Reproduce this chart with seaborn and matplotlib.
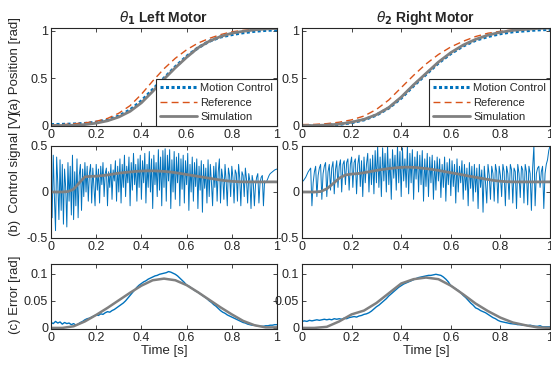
import numpy as np
import matplotlib
matplotlib.use("Agg")
import matplotlib.pyplot as plt
import seaborn as sns

# time bases
t21 = np.linspace(0, 1, 21)
t41 = np.linspace(0, 1, 41)
t101 = np.linspace(0, 1, 101)
t201 = np.linspace(0, 1, 201)

# (a) position [rad]
mc_left = [0.01, 0.012, 0.016, 0.022, 0.035, 0.058, 0.1, 0.165, 0.26, 0.38, 0.5,
           0.62, 0.73, 0.82, 0.89, 0.935, 0.96, 0.98, 0.995, 1.005, 1.01]
ref_left = [0.005, 0.01, 0.018, 0.028, 0.045, 0.075, 0.13, 0.21, 0.33, 0.47, 0.6,
            0.71, 0.8, 0.87, 0.92, 0.96, 0.99, 1.005, 1.015, 1.02, 1.025]
sim_left = [0.0, 0.0, 0.003, 0.01, 0.025, 0.05, 0.09, 0.15, 0.24, 0.36, 0.49,
            0.61, 0.72, 0.82, 0.89, 0.94, 0.975, 0.995, 1.01, 1.02, 1.025]
mc_right = [-0.005, -0.003, 0.003, 0.012, 0.03, 0.06, 0.11, 0.185, 0.29, 0.42, 0.54,
            0.66, 0.76, 0.84, 0.9, 0.94, 0.97, 0.99, 1.0, 1.01, 1.015]
ref_right = [0.01, 0.012, 0.02, 0.035, 0.06, 0.1, 0.17, 0.27, 0.4, 0.53, 0.65,
             0.75, 0.83, 0.89, 0.94, 0.975, 0.995, 1.01, 1.02, 1.025, 1.03]
sim_right = [0.0, 0.0, 0.005, 0.015, 0.035, 0.065, 0.115, 0.19, 0.3, 0.43, 0.55,
             0.67, 0.77, 0.85, 0.91, 0.955, 0.985, 1.005, 1.015, 1.025, 1.03]

# (b) control signal [V], measured (step 0.005)
u_left = [
    0.15, -0.28, 0.40, -0.05, -0.42, 0.38, 0.10, -0.30, 0.35, -0.20, 0.30, -0.35, 0.25, 0.05, -0.38, 0.32, -0.10, 0.28, -0.25, 0.40,
    -0.30, 0.22, -0.15, 0.36, -0.28, 0.18, 0.30, -0.20, 0.25, -0.05, 0.32, 0.00, 0.28, -0.10, 0.20, 0.30, -0.12, 0.26, 0.05, -0.15,
    0.30, 0.02, 0.25, -0.12, 0.28, 0.08, 0.32, -0.05, 0.20, 0.26, -0.15, 0.22, 0.05, 0.30, -0.08, 0.24, 0.12, 0.34, -0.10, 0.28,
    0.00, 0.36, -0.12, 0.30, 0.05, 0.40, -0.05, 0.28, 0.10, 0.38, -0.15, 0.32, 0.02, 0.42, 0.08, 0.30, -0.10, 0.36, 0.05, 0.40,
    -0.08, 0.34, 0.10, 0.42, -0.12, 0.30, 0.05, 0.44, 0.00, 0.36, -0.18, 0.40, 0.08, 0.32, -0.05, 0.46, 0.02, 0.38, -0.15, 0.45,
    0.05, 0.47, -0.10, 0.40, 0.12, 0.46, -0.18, 0.35, 0.00, 0.44, -0.08, 0.38, 0.10, 0.42, -0.15, 0.36, 0.03, 0.40, -0.12, 0.34,
    0.08, 0.42, -0.20, 0.30, 0.00, 0.38, -0.10, 0.32, 0.06, 0.36, -0.18, 0.28, 0.02, 0.34, -0.22, 0.30, 0.04, 0.26, -0.12, 0.35,
    -0.05, 0.30, 0.10, -0.15, 0.28, 0.05, 0.32, -0.10, 0.22, 0.36, -0.12, 0.25, 0.15, -0.08, 0.30, 0.12, -0.15, 0.26, 0.18, -0.05,
    0.28, 0.16, -0.12, 0.24, 0.20, -0.10, 0.30, 0.15, -0.15, 0.22, 0.18, -0.05, 0.26, 0.14, -0.12, 0.20, 0.12, -0.18, 0.18, 0.10,
    -0.15, 0.08, 0.16, 0.20, -0.12, 0.10, 0.16, 0.18, -0.15, 0.12, 0.10, 0.12, 0.15, 0.18, 0.20, 0.21, 0.22, 0.23, 0.24, 0.245,
    0.25]
u_right = [
    0.13, 0.12, 0.14, 0.16, 0.19, 0.22, 0.24, 0.26, -0.15, 0.10, 0.22, 0.28, -0.05, 0.18, 0.26, 0.30, -0.08, 0.20, 0.28, 0.32,
    -0.05, 0.22, 0.30, 0.02, 0.26, 0.33, -0.02, 0.24, 0.34, 0.05, 0.28, 0.35, 0.00, 0.30, 0.34, 0.08, 0.32, 0.36, 0.02, 0.30,
    0.38, 0.05, 0.32, 0.36, -0.02, 0.30, 0.40, 0.06, 0.34, -0.05, 0.38, 0.10, 0.30, 0.42, 0.00, 0.36, 0.08, 0.40, -0.02, 0.45,
    0.10, 0.50, 0.05, 0.38, -0.05, 0.48, 0.12, 0.42, 0.00, 0.50, 0.08, 0.36, -0.08, 0.46, 0.15, 0.40, 0.02, 0.50, 0.10, 0.44,
    -0.05, 0.48, 0.12, 0.36, 0.05, 0.50, -0.02, 0.42, 0.10, 0.46, -0.08, 0.38, 0.14, 0.44, 0.00, 0.40, 0.08, 0.45, -0.10, 0.36,
    0.06, 0.42, -0.05, 0.38, 0.10, 0.40, -0.08, 0.34, 0.02, 0.38, 0.12, 0.36, -0.06, 0.30, 0.05, 0.38, -0.10, 0.32, 0.08, 0.36,
    -0.04, 0.34, 0.06, 0.30, -0.12, 0.36, 0.00, 0.28, 0.10, 0.34, -0.08, 0.30, 0.02, 0.26, -0.15, 0.32, 0.04, 0.28, -0.10, 0.30,
    0.00, 0.26, -0.18, 0.30, 0.05, 0.24, -0.22, 0.28, 0.10, -0.12, 0.30, 0.18, -0.08, 0.28, 0.20, -0.10, 0.30, 0.22, -0.12, 0.28,
    0.18, -0.05, 0.30, 0.22, -0.15, 0.28, 0.20, -0.08, 0.30, 0.24, -0.12, 0.26, 0.22, -0.18, 0.30, 0.20, -0.06, 0.28, 0.24, -0.12,
    0.30, 0.22, -0.14, 0.28, 0.20, -0.20, 0.26, 0.50, -0.15, 0.20, 0.26, 0.28, 0.05, 0.22, 0.28, -0.18, 0.20, 0.30, 0.35, 0.45,
    0.50]

# (b) control signal, simulation (step 0.025)
usim_left = [0.0, 0.0, 0.0, 0.005, 0.03, 0.1, 0.165, 0.17, 0.172, 0.178, 0.185,
             0.195, 0.205, 0.212, 0.218, 0.224, 0.228, 0.23, 0.23, 0.228, 0.224,
             0.218, 0.21, 0.2, 0.19, 0.18, 0.17, 0.16, 0.15, 0.14, 0.13,
             0.122, 0.116, 0.112, 0.11, 0.11, 0.11, 0.11, 0.11, 0.11, 0.11]
usim_right = [0.0, 0.0, 0.0, 0.005, 0.035, 0.09, 0.15, 0.185, 0.195, 0.2, 0.21,
              0.222, 0.235, 0.245, 0.255, 0.262, 0.268, 0.27, 0.268, 0.262, 0.255,
              0.245, 0.235, 0.222, 0.21, 0.198, 0.185, 0.172, 0.16, 0.148, 0.136,
              0.125, 0.117, 0.112, 0.11, 0.11, 0.11, 0.11, 0.11, 0.11, 0.11]

# (c) error [rad], measured (step 0.01)
err_left = [
    0.010, 0.008, 0.012, 0.009, 0.011, 0.007, 0.010, 0.008, 0.009, 0.006,
    0.008, 0.005, 0.007, 0.010, 0.012, 0.015, 0.017, 0.018, 0.020, 0.022,
    0.024, 0.023, 0.026, 0.025, 0.028, 0.030, 0.029, 0.032, 0.034, 0.037,
    0.040, 0.043, 0.046, 0.050, 0.055, 0.060, 0.065, 0.070, 0.075, 0.079,
    0.082, 0.085, 0.087, 0.090, 0.092, 0.094, 0.096, 0.097, 0.099, 0.100,
    0.101, 0.102, 0.104, 0.103, 0.101, 0.099, 0.096, 0.092, 0.088, 0.084,
    0.079, 0.077, 0.074, 0.071, 0.068, 0.066, 0.063, 0.060, 0.057, 0.054,
    0.050, 0.047, 0.043, 0.040, 0.036, 0.032, 0.029, 0.027, 0.024, 0.022,
    0.020, 0.018, 0.016, 0.014, 0.012, 0.010, 0.009, 0.007, 0.006, 0.005,
    0.005, 0.004, 0.003, 0.003, 0.003, 0.004, 0.004, 0.005, 0.005, 0.006,
    0.006]
err_right = [
    0.012, 0.013, 0.012, 0.014, 0.013, 0.014, 0.015, 0.014, 0.015, 0.016,
    0.015, 0.016, 0.015, 0.017, 0.016, 0.017, 0.016, 0.018, 0.017, 0.019,
    0.020, 0.021, 0.020, 0.022, 0.023, 0.025, 0.026, 0.028, 0.031, 0.035,
    0.039, 0.042, 0.046, 0.050, 0.054, 0.059, 0.063, 0.067, 0.071, 0.075,
    0.078, 0.081, 0.083, 0.085, 0.087, 0.089, 0.091, 0.093, 0.094, 0.095,
    0.096, 0.097, 0.097, 0.098, 0.099, 0.098, 0.097, 0.094, 0.090, 0.085,
    0.078, 0.075, 0.072, 0.069, 0.065, 0.060, 0.056, 0.051, 0.046, 0.042,
    0.037, 0.035, 0.032, 0.030, 0.028, 0.025, 0.022, 0.019, 0.017, 0.014,
    0.012, 0.011, 0.010, 0.009, 0.008, 0.0075, 0.007, 0.006, 0.006, 0.005,
    0.005, 0.004, 0.005, 0.004, 0.003, 0.003, 0.004, 0.002, 0.002, 0.002,
    0.002]

# (c) error, simulation (step 0.05)
esim_left = [0.0, 0.0, 0.003, 0.012, 0.024, 0.037, 0.051, 0.065, 0.078, 0.088, 0.091,
             0.088, 0.079, 0.066, 0.052, 0.038, 0.025, 0.013, 0.005, 0.001, 0.001]
esim_right = [0.0, 0.0, 0.002, 0.012, 0.025, 0.032, 0.046, 0.064, 0.082, 0.09, 0.093,
              0.09, 0.078, 0.062, 0.045, 0.031, 0.019, 0.010, 0.005, 0.001, 0.0]

BLUE = "#0072BD"
ORANGE = "#D95319"
GRAY = "#808080"

sns.set_style("ticks")
plt.rcParams["font.family"] = ["Liberation Sans", "DejaVu Sans"]
plt.rcParams["mathtext.fontset"] = "dejavusans"

fig = plt.figure(figsize=(5.51, 3.67), dpi=100)

W, H = 551, 367
cols = [(51, 277), (302, 550)]
rows = [(28, 126), (146, 238), (264, 329)]


def add_ax(c, r):
    x0, x1 = cols[c]
    y0, y1 = rows[r]
    return fig.add_axes([x0 / W, 1 - y1 / H, (x1 - x0) / W, (y1 - y0) / H])


axes = [[add_ax(c, r) for c in range(2)] for r in range(3)]

data = {
    0: (mc_left, ref_left, sim_left, u_left, usim_left, err_left, esim_left),
    1: (mc_right, ref_right, sim_right, u_right, usim_right, err_right, esim_right),
}
titles = [r"$\theta_\mathbf{1}$ Left Motor", r"$\theta_\mathbf{2}$ Right Motor"]

for c in range(2):
    mc, ref, sim, u, usim, err, esim = data[c]
    ax = axes[0][c]
    sns.lineplot(x=t21, y=mc, ax=ax, color=BLUE, lw=2.2, linestyle=(0, (1, 0.8)),
                 label="Motion Control", estimator=None)
    sns.lineplot(x=t21, y=ref, ax=ax, color=ORANGE, lw=1.0, linestyle=(0, (5, 3)),
                 label="Reference", estimator=None)
    sns.lineplot(x=t21, y=sim, ax=ax, color=GRAY, lw=2.0, label="Simulation",
                 estimator=None)
    ax.set_ylim(-0.005, 1.03)
    ax.set_yticks([0, 0.5, 1])
    ax.set_yticklabels(["0", "0.5", "1"])
    ax.set_title(titles[c], fontsize=10, fontweight="bold", pad=4)
    leg = ax.legend(loc="lower right", fontsize=8, handlelength=3.3,
                    borderaxespad=0.0, fancybox=False, framealpha=1,
                    labelspacing=0.4, borderpad=0.35, handletextpad=0.3)
    leg.get_frame().set_edgecolor("#262626")
    leg.get_frame().set_linewidth(0.8)

    ax = axes[1][c]
    sns.lineplot(x=t201, y=u, ax=ax, color=BLUE, lw=0.7, estimator=None)
    sns.lineplot(x=t41, y=usim, ax=ax, color=GRAY, lw=2.0, estimator=None)
    ax.set_ylim(-0.5, 0.5)
    ax.set_yticks([-0.5, 0, 0.5])
    ax.set_yticklabels(["-0.5", "0", "0.5"])

    ax = axes[2][c]
    sns.lineplot(x=t101, y=err, ax=ax, color=BLUE, lw=1.0, estimator=None)
    sns.lineplot(x=t21, y=esim, ax=ax, color=GRAY, lw=1.8, estimator=None)
    ax.set_ylim(-0.002, 0.118)
    ax.set_yticks([0, 0.05, 0.1])
    ax.set_yticklabels(["0", "0.05", "0.1"])
    ax.set_xlabel("Time [s]", fontsize=9.5, labelpad=1)

    for r in range(3):
        ax = axes[r][c]
        ax.set_xlim(0, 1)
        ax.set_xticks([0, 0.2, 0.4, 0.6, 0.8, 1])
        ax.set_xticklabels(["0", "0.2", "0.4", "0.6", "0.8", "1"])
        ax.tick_params(direction="in", top=True, right=True, length=3,
                       width=0.6, labelsize=9, pad=2, colors="#262626")
        for s in ax.spines.values():
            s.set_visible(True)
            s.set_linewidth(0.8)
            s.set_color("#262626")
        if r < 2:
            ax.set_xlabel("")
        ax.set_ylabel("")

fig.text(15 / W, 1 - 66 / H, "(a) Position [rad]", rotation=90, ha="center",
         va="center", fontsize=9.5)
fig.text(15 / W, 1 - 174 / H, "(b)  Control signal [V]", rotation=90, ha="center",
         va="center", fontsize=9.5)
fig.text(15 / W, 1 - 295 / H, "(c) Error [rad]", rotation=90, ha="center",
         va="center", fontsize=9.5)

fig.savefig("out.png", dpi=100, facecolor="white")
